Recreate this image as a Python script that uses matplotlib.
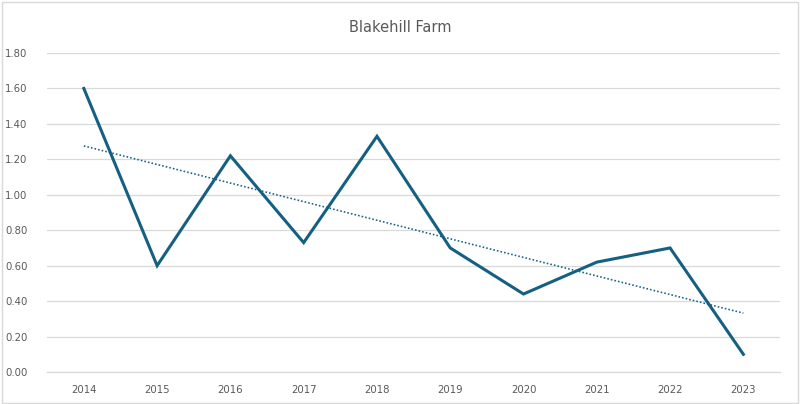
import numpy as np
from matplotlib import pyplot as plt
from matplotlib.patches import Rectangle

years = ['2014', '2015', '2016', '2017', '2018', '2019', '2020', '2021', '2022', '2023']
values = [1.60, 0.60, 1.22, 0.73, 1.33, 0.70, 0.44, 0.62, 0.70, 0.10]

line_col = '#156082'
grid_col = '#d9d9d9'
text_col = '#595959'

fig = plt.figure(figsize=(8.0, 4.04), dpi=100)
ax = fig.add_axes([0.059, 0.0792, 0.916, 0.7896])

x = np.arange(len(years))
ax.plot(x, values, color=line_col, linewidth=2.2, solid_joinstyle='miter', zorder=3)

# linear trendline
k, b = np.polyfit(x, values, 1)
ax.plot(x, k * x + b, color=line_col, linewidth=1.15, linestyle=(0, (1, 1.3)),
        dash_capstyle='butt', zorder=2)

ax.set_xlim(-0.5, len(years) - 0.5)
ax.set_ylim(0, 1.8)
ax.set_yticks(np.arange(0, 1.81, 0.2))
ax.set_yticklabels([f'{v:.2f}' for v in np.arange(0, 1.81, 0.2)])
ax.set_xticks(x)
ax.set_xticklabels(years)
ax.grid(axis='y', color=grid_col, linewidth=0.9)
ax.set_axisbelow(True)
for s in ['top', 'right', 'left']:
    ax.spines[s].set_visible(False)
ax.spines['bottom'].set_color(grid_col)
ax.spines['bottom'].set_linewidth(0.9)
ax.tick_params(axis='both', length=0, labelsize=7.3, colors=text_col)
ax.tick_params(axis='x', pad=9)
ax.tick_params(axis='y', pad=14)

fig.text(0.5, 0.931, 'Blakehill Farm', ha='center', va='center', fontsize=10.5, color=text_col)
fig.patches.append(Rectangle((0.003, 0.003), 0.994, 0.992, transform=fig.transFigure,
                             fill=False, edgecolor=grid_col, linewidth=1))

fig.savefig('out.png', dpi=100)
